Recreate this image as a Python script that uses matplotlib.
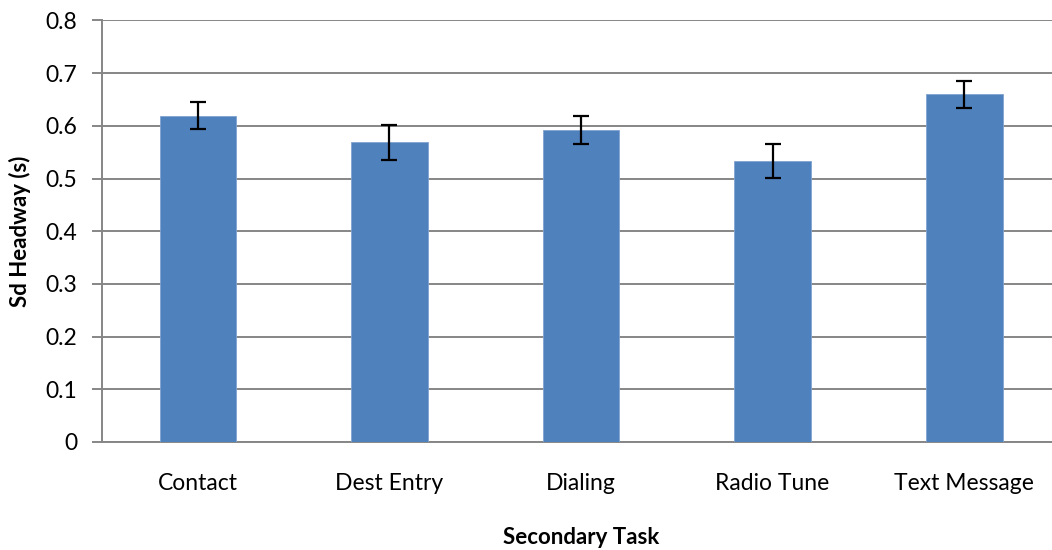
import numpy as np
import matplotlib.pyplot as plt

tasks = ["Contact", "Dest Entry", "Dialing", "Radio Tune", "Text Message"]
sd_headway = [0.619, 0.569, 0.592, 0.533, 0.660]
errors = [0.0255, 0.033, 0.026, 0.0325, 0.026]

plt.rcParams['font.family'] = ['Lato', 'DejaVu Sans']

fig = plt.figure(figsize=(10.52, 5.5), dpi=100)
ax = fig.add_axes([0.097, 0.1964, 0.9106, 0.7664])

x = np.arange(len(tasks))
ax.bar(x, sd_headway, width=0.4, color="#4F81BD", edgecolor="#7FA3D1", linewidth=0.6,
       zorder=3)
ax.errorbar(x, sd_headway, yerr=errors, fmt="none", ecolor="black", elinewidth=1.6,
            capsize=6, capthick=1.6, zorder=4)

ax.set_xlim(-0.5, len(tasks) - 0.5)
ax.set_ylim(0, 0.8)
ax.set_yticks(np.arange(0, 0.81, 0.1))
ax.set_yticklabels(["0"] + ["%.1f" % v for v in np.arange(0.1, 0.81, 0.1)])
ax.yaxis.grid(True, color="#868686", linewidth=1.4, zorder=0)
ax.set_xticks(x)
ax.set_xticklabels(tasks)

for s in ["top", "right"]:
    ax.spines[s].set_visible(False)
ax.spines["left"].set_color("#868686")
ax.spines["bottom"].set_color("#868686")
ax.spines["left"].set_linewidth(1.4)
ax.spines["bottom"].set_linewidth(1.4)

ax.tick_params(axis="y", length=7, width=1.4, color="#868686", labelsize=16.5, pad=11)
ax.tick_params(axis="x", length=0, labelsize=16.5, pad=22)

ax.set_xlabel("Secondary Task", fontsize=16, fontweight="bold", labelpad=24)
ax.set_ylabel("Sd Headway (s)", fontsize=16, fontweight="bold", labelpad=10)

fig.savefig("out.png", dpi=100)
